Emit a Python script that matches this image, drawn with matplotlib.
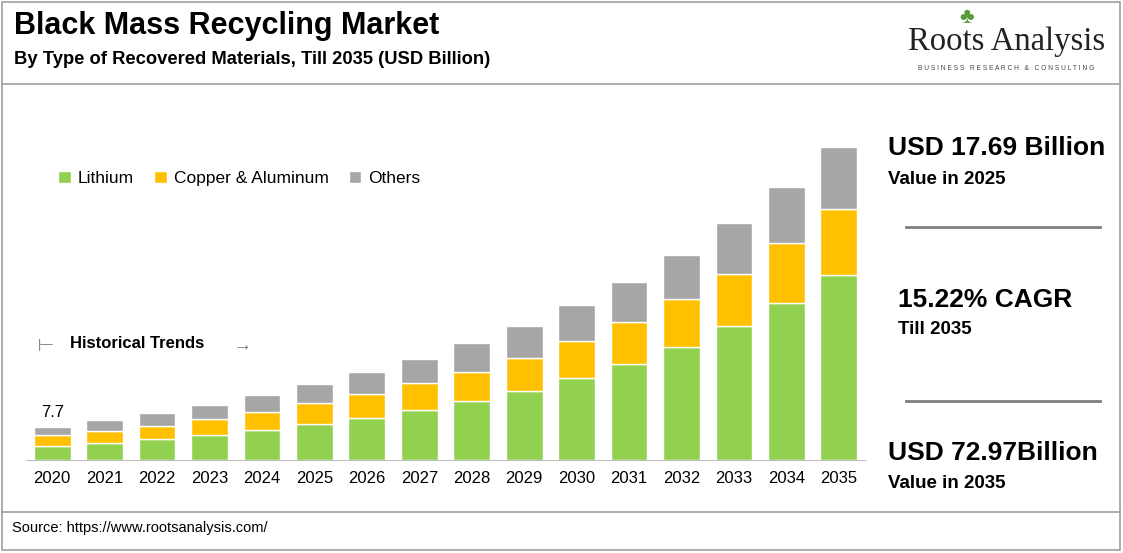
import matplotlib
matplotlib.use("Agg")
import matplotlib.pyplot as plt
from matplotlib.patches import Rectangle
from matplotlib.lines import Line2D

years = [str(y) for y in range(2020, 2036)]
lithium = [3.2, 3.9, 4.9, 5.8, 7.0, 8.4, 9.7, 11.6, 13.7, 16.0, 19.0, 22.3, 26.2, 31.1, 36.4, 42.9]
copper_al = [2.6, 2.8, 3.0, 3.7, 4.2, 4.9, 5.6, 6.3, 6.7, 7.7, 8.6, 9.7, 11.1, 12.1, 13.9, 15.3]
others = [1.9, 2.6, 3.0, 3.2, 3.9, 4.4, 5.1, 5.6, 6.7, 7.4, 8.4, 9.3, 10.2, 11.8, 13.0, 14.6]
series_names = ["Lithium", "Copper & Aluminum", "Others"]
colors = ["#92d050", "#ffc000", "#a6a6a6"]

plt.rcParams['font.family'] = ['Liberation Sans', 'DejaVu Sans']
W, H = 1123, 553
fig = plt.figure(figsize=(W/100, H/100), dpi=100)

def fx(x): return x / W
def fy(y): return 1 - y / H

# borders
fig.add_artist(Rectangle((fx(2), fy(550)), fx(1118), 548/H, transform=fig.transFigure, fill=False, ec="#a0a0a0", lw=1.2))
fig.add_artist(Line2D([fx(2), fx(1120)], [fy(84), fy(84)], transform=fig.transFigure, color="#a0a0a0", lw=1.2))
fig.add_artist(Line2D([fx(2), fx(1120)], [fy(512), fy(512)], transform=fig.transFigure, color="#a0a0a0", lw=1.2))

fig.text(fx(14), fy(26), "Black Mass Recycling Market", fontsize=22, fontweight="bold", va="center")
fig.text(fx(14), fy(60), "By Type of Recovered Materials, Till 2035 (USD Billion)", fontsize=13.2, fontweight="bold", va="center")
fig.text(fx(1007), fy(42), "Roots Analysis", fontsize=23.5, family="Liberation Serif", ha="center", va="center", color="#222222")
fig.text(fx(1006), fy(68), "B U S I N E S S   R E S E A R C H   &   C O N S U L T I N G", fontsize=4.8, ha="center", va="center", color="#444444")
fig.text(fx(967), fy(18), "\u2663", fontsize=16, color="#5a9a3a", ha="center", va="center")
fig.text(fx(12), fy(528), "Source: https://www.rootsanalysis.com/", fontsize=10.5, va="center")

ax = fig.add_axes([fx(26), fy(460), fx(865-26), (460-100)/H])
x = range(len(years))
bottom = [0]*len(years)
for vals, name, c in zip([lithium, copper_al, others], series_names, colors):
    ax.bar(x, vals, 0.7, bottom=bottom, color=c, ec="white", lw=1, label=name)
    bottom = [b+v for b, v in zip(bottom, vals)]
ax.set_xlim(-0.5, 15.5)
ax.set_ylim(0, 83.6)
ax.set_xticks(list(x))
ax.set_xticklabels(years, fontsize=12)
ax.tick_params(axis="x", length=0, pad=8)
ax.set_yticks([])
for s in ["top", "right", "left"]:
    ax.spines[s].set_visible(False)
ax.spines["bottom"].set_color("#bfbfbf")
ax.text(0, bottom[0] + 1.5, "7.7", ha="center", va="bottom", fontsize=12)
ax.legend(loc="upper left", bbox_to_anchor=(0.02, 0.847), ncol=3, frameon=False, fontsize=12.5,
          handlelength=0.7, handleheight=0.7, columnspacing=1.2, handletextpad=0.4)

fig.text(fx(70), fy(344), "Historical Trends", fontsize=12, fontweight="bold", va="center")
fig.text(fx(38), fy(345), "|\u2014", fontsize=9, color="#777777", va="center")
fig.text(fx(233), fy(346), "\u2192", fontsize=13, color="#777777", va="center")

fig.text(fx(888), fy(148), "USD 17.69 Billion", fontsize=19, fontweight="bold", va="center")
fig.text(fx(888), fy(179), "Value in 2025", fontsize=13.5, fontweight="bold", va="center")
fig.add_artist(Line2D([fx(906), fx(1100)], [fy(227), fy(227)], transform=fig.transFigure, color="#7f7f7f", lw=2))
fig.text(fx(898), fy(300), "15.22% CAGR", fontsize=19, fontweight="bold", va="center")
fig.text(fx(898), fy(329), "Till 2035", fontsize=13.5, fontweight="bold", va="center")
fig.add_artist(Line2D([fx(906), fx(1100)], [fy(401), fy(401)], transform=fig.transFigure, color="#7f7f7f", lw=2))
fig.text(fx(888), fy(453), "USD 72.97Billion", fontsize=19, fontweight="bold", va="center")
fig.text(fx(888), fy(483), "Value in 2035", fontsize=13.5, fontweight="bold", va="center")

fig.savefig("out.png", dpi=100)
